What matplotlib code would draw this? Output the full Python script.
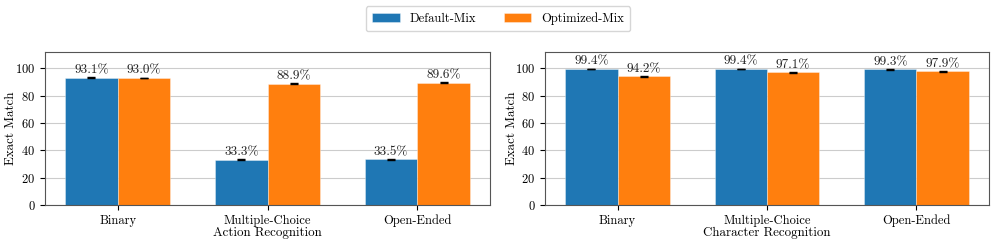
import matplotlib
matplotlib.use("Agg")
import matplotlib.pyplot as plt
import numpy as np

plt.rcParams['font.family'] = 'serif'
plt.rcParams['font.serif'] = ['cmr10']
plt.rcParams['mathtext.fontset'] = 'cm'
plt.rcParams['axes.formatter.use_mathtext'] = True

categories = ["Binary", "Multiple-Choice", "Open-Ended"]
series_names = ["Default-Mix", "Optimized-Mix"]

# action recognition
action_default = [93.1, 33.3, 33.5]
action_optimized = [93.0, 88.9, 89.6]
action_default_err = [0.4, 0.3, 0.3]
action_optimized_err = [0.3, 0.3, 0.3]

# character recognition
char_default = [99.4, 99.4, 99.3]
char_optimized = [94.2, 97.1, 97.9]
char_default_err = [0.2, 0.2, 0.2]
char_optimized_err = [0.3, 0.3, 0.3]

panels = [
    ("Action Recognition", action_default, action_optimized, action_default_err, action_optimized_err),
    ("Character Recognition", char_default, char_optimized, char_default_err, char_optimized_err),
]

colors = ["#1f77b4", "#ff7f0e"]
width = 0.35
fs = 9

fig = plt.figure(figsize=(9.96, 2.43), dpi=100)
axes = [fig.add_axes([45/996, 38/243, 445/996, 153/243]),
        fig.add_axes([545/996, 38/243, 444/996, 153/243])]
label_x = [-0.063, -0.061]

x = np.arange(len(categories))
for ax, lx, (title, d, o, de, oe) in zip(axes, label_x, panels):
    ax.set_axisbelow(True)
    ax.yaxis.grid(True, color="#cccccc", linewidth=0.8)
    handles = []
    for i, (vals, errs) in enumerate([(d, de), (o, oe)]):
        pos = x + (i - 0.5) * width
        bars = ax.bar(pos, vals, width, yerr=errs, color=colors[i], edgecolor="#ffffff80",
                      linewidth=0.5, label=series_names[i],
                      error_kw=dict(ecolor="black", capsize=3, elinewidth=1, capthick=1))
        handles.append(bars)
        for p, v in zip(pos, vals):
            ax.annotate("%.1f%%" % v, (p, v), xytext=(0, 1), textcoords="offset points",
                        ha="center", va="bottom", fontsize=fs + 0.5, color="#222222")
    ax.set_ylim(0, 112)
    ax.set_yticks([0, 20, 40, 60, 80, 100])
    ax.set_xticks(x)
    ax.set_xticklabels(categories, fontsize=fs)
    ax.tick_params(axis="y", labelsize=fs)
    ax.set_xlabel(title, fontsize=fs + 0.3, labelpad=0)
    ax.set_ylabel("Exact Match", fontsize=fs + 0.3)
    ax.yaxis.set_label_coords(lx, 0.5)
    for s in ax.spines.values():
        s.set_color("#555555")

fig.legend(handles, series_names, loc="upper center", ncol=2, bbox_to_anchor=(0.5, 1.0),
           fontsize=fs, handlelength=2.2, columnspacing=2.2, borderpad=0.5)

fig.savefig("out.png", dpi=100)
